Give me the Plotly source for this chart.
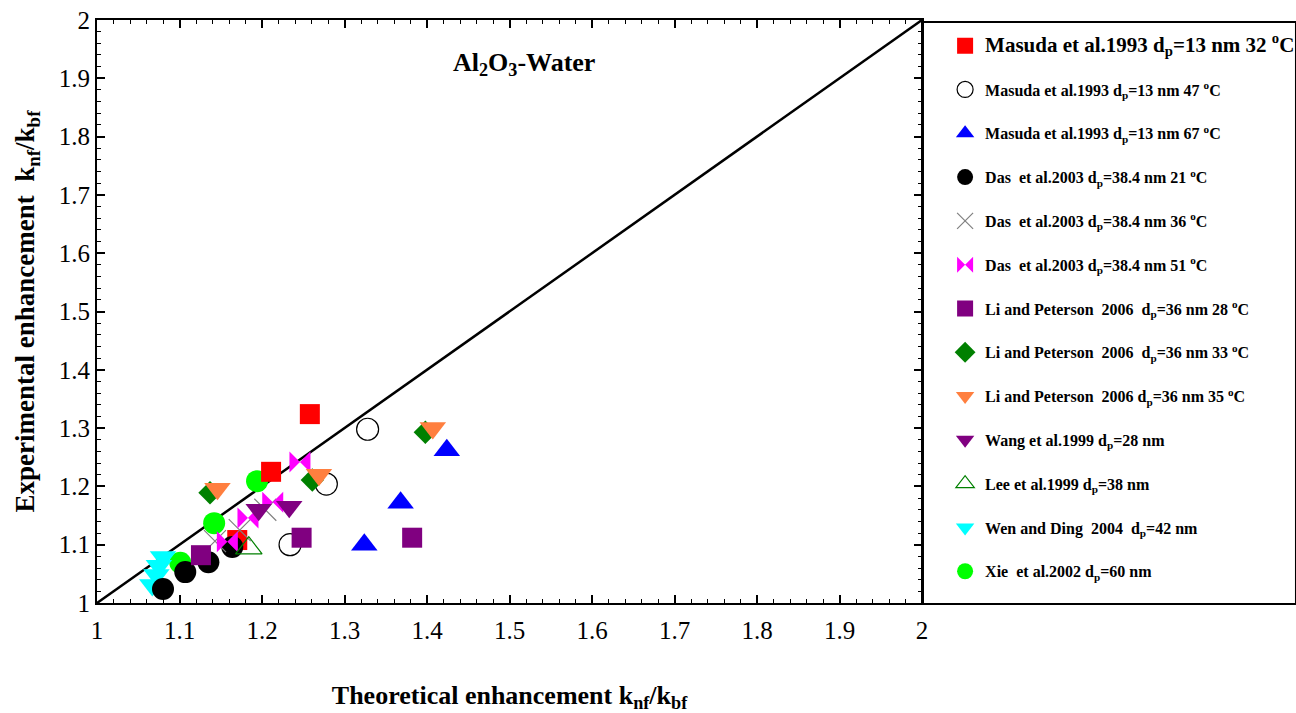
import plotly.graph_objects as go

# ---- data (theoretical k_nf/k_bf, experimental k_nf/k_bf) ----
masuda32_x = [1.170, 1.211, 1.258]
masuda32_y = [1.108, 1.225, 1.324]
masuda47_x = [1.234, 1.278, 1.328]
masuda47_y = [1.100, 1.204, 1.298]
masuda67_x = [1.324, 1.368, 1.424]
masuda67_y = [1.100, 1.172, 1.262]
das21_x = [1.080, 1.107, 1.135, 1.164]
das21_y = [1.024, 1.053, 1.070, 1.096]
das36_x = [1.143, 1.173, 1.204]
das36_y = [1.106, 1.125, 1.160]
das51_x = [1.158, 1.183, 1.213, 1.246]
das51_y = [1.105, 1.146, 1.173, 1.242]
li28_x = [1.126, 1.248, 1.382]
li28_y = [1.082, 1.112, 1.112]
li33_x = [1.137, 1.261, 1.398]
li33_y = [1.189, 1.211, 1.293]
li35_x = [1.146, 1.269, 1.407]
li35_y = [1.196, 1.220, 1.300]
wang_x = [1.196, 1.233]
wang_y = [1.160, 1.165]
lee_x = [1.184]
lee_y = [1.094]
wen_x = [1.067, 1.072, 1.075, 1.080]
wen_y = [1.031, 1.048, 1.064, 1.079]
xie_x = [1.101, 1.142, 1.194]
xie_y = [1.069, 1.137, 1.209]

line_x = [1, 2]
line_y = [1, 2]

ticks = [1, 1.1, 1.2, 1.3, 1.4, 1.5, 1.6, 1.7, 1.8, 1.9, 2]
tick_labels = ["1", "1.1", "1.2", "1.3", "1.4", "1.5", "1.6", "1.7", "1.8", "1.9", "2"]

SERIF = "Liberation Serif"

series = [
    ('<span style="font-size:21px">Masuda et al.1993 d<sub>p</sub>=13 nm 32 <sup>o</sup>C</span>',
     masuda32_x, masuda32_y, "square", "#FF0000", 20, None, 1),
    ("Masuda et al.1993 d<sub>p</sub>=13 nm 47 <sup>o</sup>C",
     masuda47_x, masuda47_y, "circle-open", "#000000", 22, 1.2, 2),
    ("Masuda et al.1993 d<sub>p</sub>=13 nm 67 <sup>o</sup>C",
     masuda67_x, masuda67_y, "triangle-up", "#0000FF", 23, None, 3),
    ("Das  et al.2003 d<sub>p</sub>=38.4 nm 21 <sup>o</sup>C",
     das21_x, das21_y, "circle", "#000000", 22, None, 4),
    ("Das  et al.2003 d<sub>p</sub>=38.4 nm 36 <sup>o</sup>C",
     das36_x, das36_y, "x-thin", "#808080", 22, 1.2, 5),
    ("Das  et al.2003 d<sub>p</sub>=38.4 nm 51 <sup>o</sup>C",
     das51_x, das51_y, "bowtie", "#FF00FF", 21, None, 6),
    ("Li and Peterson  2006  d<sub>p</sub>=36 nm 28 <sup>o</sup>C",
     li28_x, li28_y, "square", "#800080", 20, None, 7),
    ("Li and Peterson  2006  d<sub>p</sub>=36 nm 33 <sup>o</sup>C",
     li33_x, li33_y, "diamond", "#008000", 18, None, 8),
    ("Li and Peterson  2006 d<sub>p</sub>=36 nm 35 <sup>o</sup>C",
     li35_x, li35_y, "triangle-down", "#FF7F3F", 23, None, 9),
    ("Wang et al.1999 d<sub>p</sub>=28 nm",
     wang_x, wang_y, "triangle-down", "#800080", 23, None, 10),
    ("Lee et al.1999 d<sub>p</sub>=38 nm",
     lee_x, lee_y, "triangle-up-open", "#008000", 23, 1.2, 11),
    ("Wen and Ding  2004  d<sub>p</sub>=42 nm",
     wen_x, wen_y, "triangle-down", "#00FFFF", 23, None, 12),
    ("Xie  et al.2002 d<sub>p</sub>=60 nm",
     xie_x, xie_y, "circle", "#00FF00", 22, None, 13),
]

# drawing order (bottom to top)
draw_order = [13, 12, 1, 4, 2, 3, 5, 6, 7, 8, 9, 10, 11]

fig = go.Figure()

fig.add_trace(go.Scatter(x=line_x, y=line_y, mode="lines",
                         line=dict(color="black", width=2.5),
                         showlegend=False, hoverinfo="skip"))

by_rank = {s[7]: s for s in series}
for r in draw_order:
    name, xs, ys, sym, col, size, lw, rank = by_rank[r]
    if lw is None:
        marker = dict(symbol=sym, color=col, size=size, line=dict(width=0))
    else:
        marker = dict(symbol=sym, color=col, size=size, line=dict(width=lw, color=col))
    fig.add_trace(go.Scatter(x=xs, y=ys, mode="markers", name="<b>" + name + "</b>",
                             marker=marker, legendrank=rank,
                             legendgroup="g%d" % rank))

axis_common = dict(
    range=[1, 2], showline=True, linecolor="black", linewidth=2,
    mirror="ticks", ticks="inside", ticklen=8, tickwidth=1.5, tickcolor="black",
    showgrid=False, zeroline=False, automargin=False,
    tickfont=dict(family=SERIF, size=25, color="black"),
    minor=dict(ticks="inside", ticklen=4, tickwidth=1, tickcolor="black", dtick=0.02, showgrid=False),
    tickvals=ticks, ticktext=tick_labels,
)

fig.update_xaxes(**axis_common, ticklabelstandoff=4,
                 title=dict(text="<b>Theoretical enhancement k<sub>nf</sub>/k<sub>bf</sub></b>",
                            font=dict(family=SERIF, size=26, color="black"), standoff=44))
fig.update_yaxes(**axis_common,
                 title=dict(text="<b>Experimental enhancement  k<sub>nf</sub>/k<sub>bf</sub></b>",
                            font=dict(family=SERIF, size=27, color="black"), standoff=16))

fig.add_annotation(x=0.518, y=0.955, xref="paper", yref="paper",
                   text="<b>Al<sub>2</sub>O<sub>3</sub>-Water</b>", showarrow=False,
                   font=dict(family=SERIF, size=26, color="black"))

# legend frame
fig.add_shape(type="rect", xref="paper", yref="paper", x0=1.0, x1=1.4533,
              y0=-0.0017, y1=0.9966, line=dict(color="black", width=2),
              fillcolor="white", layer="below")

fig.update_layout(
    width=1296, height=713,
    margin=dict(l=97, r=374, t=20, b=110, autoexpand=False),
    paper_bgcolor="white", plot_bgcolor="white",
    legend=dict(x=1.028, y=0.985, xanchor="left", yanchor="top",
                bgcolor="rgba(0,0,0,0)", borderwidth=0,
                font=dict(family=SERIF, size=16, color="black"),
                tracegroupgap=20, itemsizing="trace"),
    font=dict(family=SERIF, color="black"),
)

fig.write_html("out.html")
